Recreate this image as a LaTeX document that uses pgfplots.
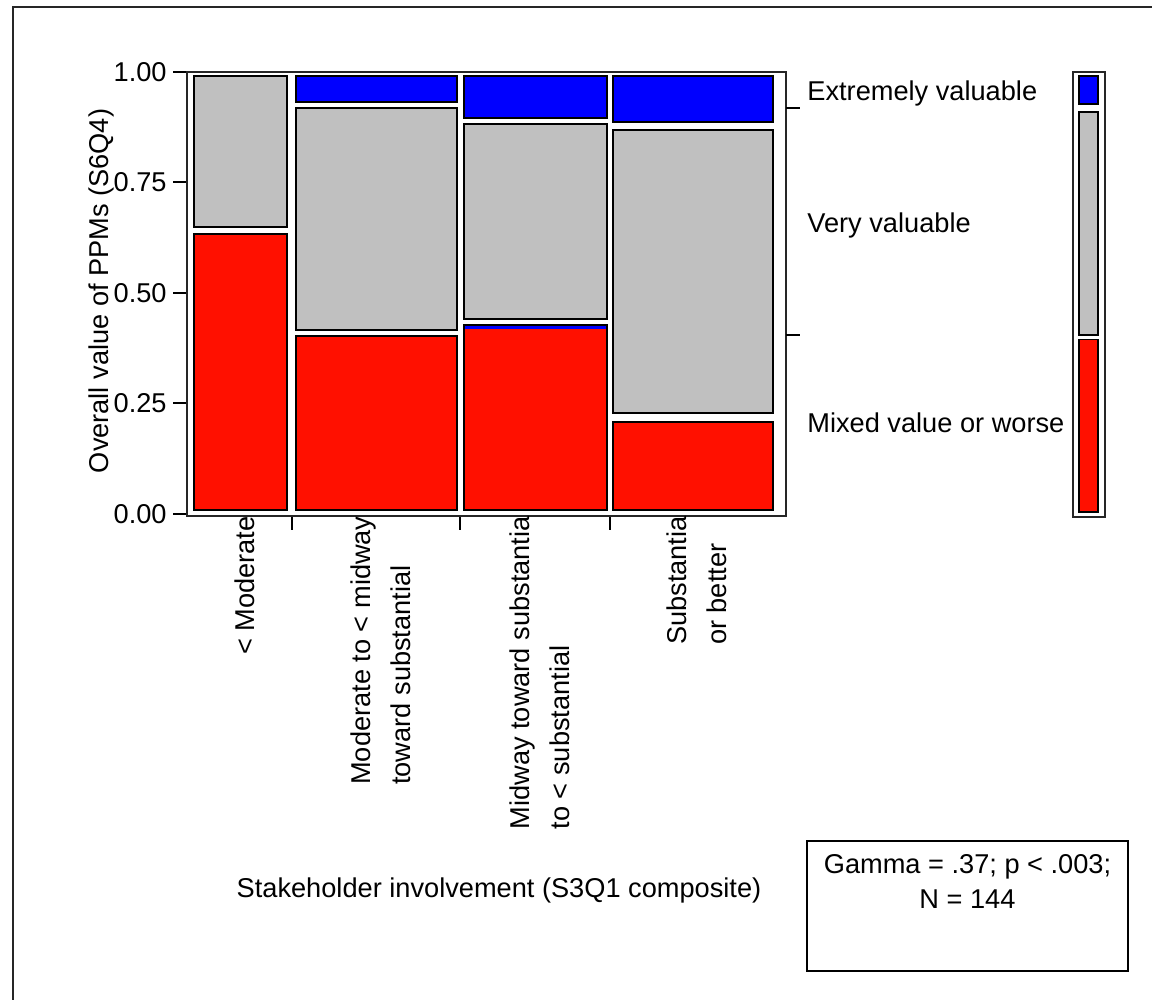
\documentclass[border=0pt]{standalone}
\usepackage{fontspec}
\setmainfont{Liberation Sans}
\usepackage{pgfplots}
\pgfplotsset{compat=1.18}
\definecolor{mred}{RGB}{255,16,0}
\definecolor{mblue}{RGB}{0,0,255}
\definecolor{mgray}{RGB}{192,192,192}
\newcommand\f{\fontsize{13.6pt}{20pt}\selectfont}
\pgfplotsset{cell/.style={draw=black, line width=0.9pt, fill=#1}}
\begin{document}
\f
\begin{tikzpicture}[x=1pt,y=1pt]
\path[use as bounding box] (0,0) rectangle (576,500);
\draw[line width=1.2pt, black!85] (6.5,0) -- (6.5,496.5) -- (576,496.5);
\begin{axis}[at={(93.5pt,242pt)}, anchor=south west, width=299.5pt, height=222pt, scale only axis,
 xmin=-1.74, xmax=147.2, ymin=-0.0045, ymax=1.0,
 axis line style={black!85, line width=1pt},
 tick style={black, line width=1pt},
 tick align=outside, major tick length=7pt,
 xtick={24.25,66.25,103.45}, xticklabels={}, xtick pos=bottom,
 ytick={0,0.25,0.5,0.75,1}, yticklabels={0.00,0.25,0.50,0.75,1.00}, ytick pos=left,
 yticklabel style={inner sep=0pt, xshift=-3pt},
 extra x ticks={11.55,45.4,84.9,124.1},
 extra x tick labels={{< Moderate},{Moderate to < midway\\toward substantial},{Midway toward substantia\\to < substantial},{Substantia\\or better}},
 extra x tick style={major tick length=0pt, xticklabel style={rotate=90, anchor=east, align=left, inner sep=0pt, yshift=-2pt}},
 clip=false]
% column 1: < Moderate
\addplot[cell=mred]  coordinates {(0,0.009) (23.1,0.009) (23.1,0.633) (0,0.633)} -- cycle;
\addplot[cell=mgray] coordinates {(0,0.649) (23.1,0.649) (23.1,0.991) (0,0.991)} -- cycle;
% column 2
\addplot[cell=mred]  coordinates {(25.4,0.009) (65.4,0.009) (65.4,0.403) (25.4,0.403)} -- cycle;
\addplot[cell=mgray] coordinates {(25.4,0.416) (65.4,0.416) (65.4,0.919) (25.4,0.919)} -- cycle;
\addplot[cell=mblue] coordinates {(25.4,0.932) (65.4,0.932) (65.4,0.991) (25.4,0.991)} -- cycle;
% column 3
\addplot[cell=mred]  coordinates {(67.1,0.009) (102.7,0.009) (102.7,0.427) (67.1,0.427)} -- cycle;
\addplot[fill=mblue, draw=none] coordinates {(67.3,0.419) (102.5,0.419) (102.5,0.426) (67.3,0.426)} -- cycle;
\addplot[cell=mgray] coordinates {(67.1,0.441) (102.7,0.441) (102.7,0.882) (67.1,0.882)} -- cycle;
\addplot[cell=mblue] coordinates {(67.1,0.896) (102.7,0.896) (102.7,0.991) (67.1,0.991)} -- cycle;
% column 4
\addplot[cell=mred]  coordinates {(104.2,0.009) (144,0.009) (144,0.208) (104.2,0.208)} -- cycle;
\addplot[cell=mgray] coordinates {(104.2,0.229) (144,0.229) (144,0.869) (104.2,0.869)} -- cycle;
\addplot[cell=mblue] coordinates {(104.2,0.887) (144,0.887) (144,0.991) (104.2,0.991)} -- cycle;
\end{axis}
\begin{axis}[at={(536.5pt,241.5pt)}, anchor=south west, width=16pt, height=222.5pt, scale only axis,
 xmin=0, xmax=1, ymin=-0.0045, ymax=1.0, ticks=none,
 axis line style={black!85, line width=1pt}, clip=false]
\addplot[cell=mred]  coordinates {(0.19,0.007) (0.78,0.007) (0.78,0.396) (0.19,0.396)} -- cycle;
\addplot[cell=mgray] coordinates {(0.19,0.407) (0.78,0.407) (0.78,0.910) (0.19,0.910)} -- cycle;
\addplot[cell=mblue] coordinates {(0.19,0.928) (0.78,0.928) (0.78,0.991) (0.19,0.991)} -- cycle;
\end{axis}
\draw[line width=1pt] (393,446) -- (400,446);
\draw[line width=1pt] (393,332.5) -- (400,332.5);
\node[anchor=base west, inner sep=0pt] at (403.5,449.5) {Extremely valuable};
\node[anchor=base west, inner sep=0pt] at (403.5,383.7) {Very valuable};
\node[anchor=base west, inner sep=0pt] at (403.5,283.5) {Mixed value or worse};
\node[anchor=base, rotate=90, inner sep=0pt] at (54,354.5) {Overall value of PPMs (S6Q4)};
\node[anchor=base, inner sep=0pt] at (249.5,51) {Stakeholder involvement (S3Q1 composite)};
\draw[line width=1pt] (403.5,14.5) rectangle (564,79.5);
\node[anchor=base, inner sep=0pt] at (483.75,63) {Gamma = .37; p < .003;};
\node[anchor=base, inner sep=0pt] at (483.75,45.5) {N = 144};
\end{tikzpicture}
\end{document}
